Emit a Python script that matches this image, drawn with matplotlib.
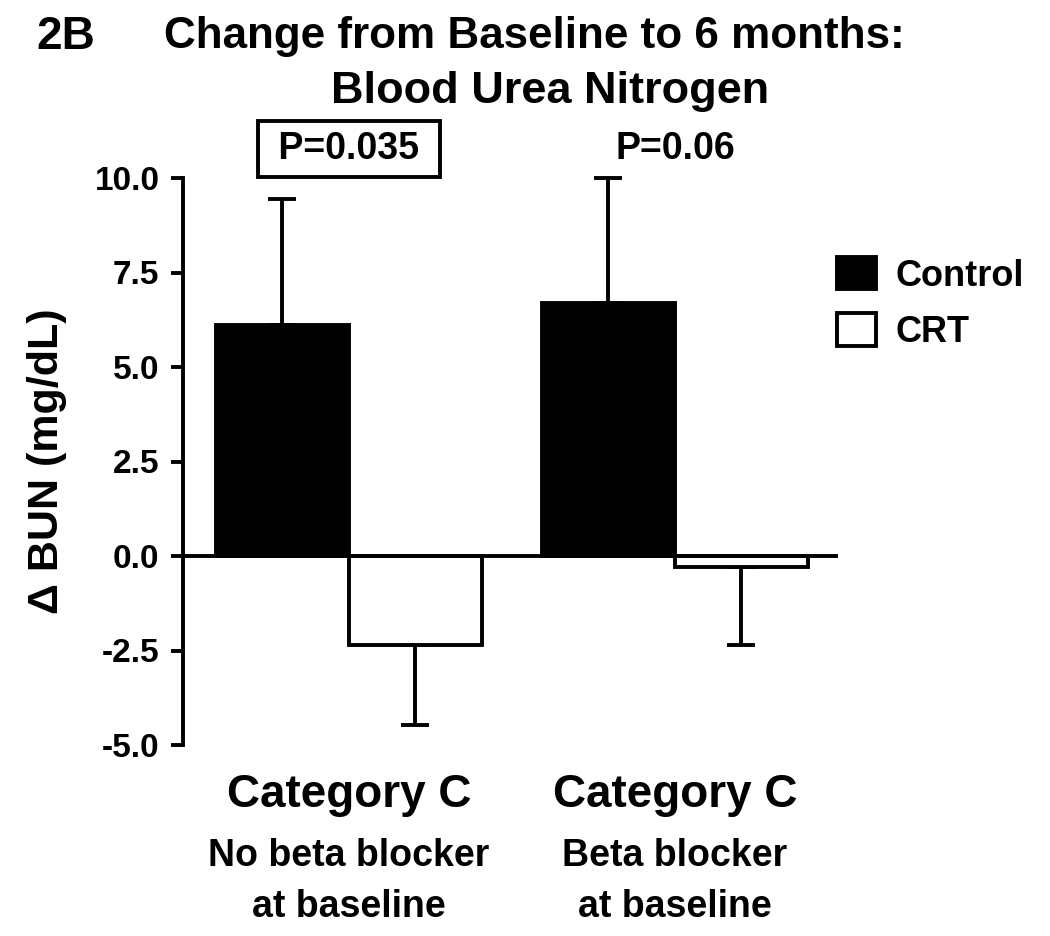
import matplotlib.pyplot as plt
import numpy as np

plt.rcParams['font.family'] = ['Liberation Sans', 'DejaVu Sans']
plt.rcParams['font.weight'] = 'bold'

# Données
groupes = ["Category C", "Category C"]
sous_titres = ["No beta blocker\nat baseline", "Beta blocker\nat baseline"]
controle = [6.1, 6.7]
controle_err = [3.35, 3.3]
crt = [-2.35, -0.3]
crt_err = [2.12, 2.05]
p_valeurs = ["P=0.035", "P=0.06"]

fig = plt.figure(figsize=(10.5, 9.36), dpi=100)
ax = fig.add_axes([183 / 1050, 1 - 745 / 936, 653 / 1050, 567 / 936])

x = np.arange(len(groupes))
w = 0.408
lw = 2.8

ax.bar(x - w / 2, controle, w, color="black", edgecolor="black", linewidth=lw,
       label="Control", zorder=2)
ax.bar(x + w / 2, crt, w, color="white", edgecolor="black", linewidth=lw,
       label="CRT", zorder=2)

# barres d'erreur (un seul côté)
ax.errorbar(x - w / 2, controle, yerr=[np.zeros(2), controle_err], fmt="none",
            ecolor="black", elinewidth=lw, capsize=10, capthick=lw, clip_on=False, zorder=1)
ax.errorbar(x + w / 2, crt, yerr=[crt_err, np.zeros(2)], fmt="none",
            ecolor="black", elinewidth=lw, capsize=10, capthick=lw, clip_on=False, zorder=1)

ax.set_xlim(-0.509, 1.494)
ax.set_ylim(-5, 10)
ax.set_yticks([-5, -2.5, 0, 2.5, 5, 7.5, 10])
ax.set_yticklabels(["-5.0", "-2.5", "0.0", "2.5", "5.0", "7.5", "10.0"])
ax.tick_params(axis="y", labelsize=24, width=lw, length=9, pad=8)
ax.set_xticks([])

ax.spines["top"].set_visible(False)
ax.spines["right"].set_visible(False)
ax.spines["left"].set_linewidth(lw)
ax.spines["bottom"].set_position(("data", 0))
ax.spines["bottom"].set_linewidth(lw)
ax.spines["bottom"].set_zorder(3)

ax.set_ylabel("Δ BUN (mg/dL)", fontsize=31, fontweight="bold")
ax.yaxis.set_label_coords(-0.178, 0.5)

# étiquettes des catégories
for i in range(len(groupes)):
    ax.text(x[i], -5.75, groupes[i], ha="center", va="top", fontsize=33,
            fontweight="bold")
    ax.text(x[i], -7.45, sous_titres[i], ha="center", va="top", fontsize=27,
            linespacing=1.55)

# valeurs P
ax.text(x[0], 10.77, " " + p_valeurs[0] + " ", ha="center", va="center", fontsize=27,
        bbox=dict(boxstyle="square,pad=0.27", fc="white", ec="black", lw=lw))
ax.text(x[1], 10.77, p_valeurs[1], ha="center", va="center", fontsize=27)

# titre
fig.text(0.035, 0.961, "2B", fontsize=33, fontweight="bold", va="center")
fig.text(0.509, 0.961, "Change from Baseline to 6 months:", fontsize=31.7,
         fontweight="bold", ha="center", va="center")
fig.text(0.524, 0.902, "Blood Urea Nitrogen", fontsize=32.5, fontweight="bold",
         ha="center", va="center")

ax.legend(loc="upper left", bbox_to_anchor=(837 / 1050, 1 - 257 / 936),
          bbox_transform=fig.transFigure, frameon=False, fontsize=26,
          borderpad=0, borderaxespad=0,
          handlelength=1.08, handleheight=1.0, handletextpad=0.55, labelspacing=0.55)

plt.savefig("out.png", dpi=100)
